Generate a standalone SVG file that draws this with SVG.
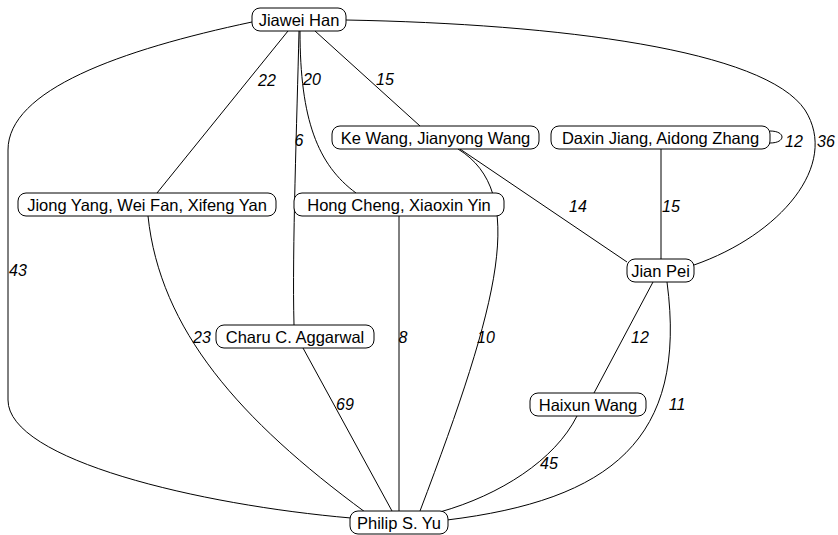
<svg xmlns="http://www.w3.org/2000/svg" width="838" height="535" viewBox="0 0 838 535">
<style>
.n rect{fill:#fff;stroke:#000;stroke-width:1}
.n text{font-family:"Liberation Sans",Arial,sans-serif;font-size:16.5px;text-anchor:middle;fill:#000}
.e path{fill:none;stroke:#000;stroke-width:1}
.l text{font-family:"Liberation Sans",Arial,sans-serif;font-size:16px;font-style:italic;text-anchor:middle;fill:#000}
</style>
<rect width="838" height="535" fill="#fff"/>
<g id="connectors" class="e">
<path d="M288,31 L157,193"/>
<path d="M299,31 C297,120 292,250 294,325"/>
<path d="M300,31 C300,120 318,165 356,193"/>
<path d="M315,31 L420,126"/>
<path d="M346,20 C560,24 765,50 805,110 C840,165 780,235 694,265"/>
<path d="M252,22 C120,50 8,90 8,150 L8,400 C8,460 200,505 351,518"/>
<path d="M460,149 L627,262"/>
<path d="M458,149 C528,192 500,300 420,511"/>
<path d="M661,149 L661,259"/>
<path d="M770,131 C786,131 786,143 770,143"/>
<path d="M148,216 C160,330 240,420 365,512"/>
<path d="M399,216 L399,511"/>
<path d="M303,348 L392,511"/>
<path d="M653,282 L594,393"/>
<path d="M667,282 C688,440 610,500 447,520"/>
<path d="M577,416 C555,460 500,495 440,512"/>
</g>
<g id="edge-labels" class="l">
<text x="267" y="86">22</text>
<text x="312" y="85">20</text>
<text x="385" y="85">15</text>
<text x="299" y="146">6</text>
<text x="826" y="147">36</text>
<text x="18" y="276">43</text>
<text x="794" y="147">12</text>
<text x="578" y="212">14</text>
<text x="671" y="212">15</text>
<text x="202" y="343">23</text>
<text x="403" y="343">8</text>
<text x="486" y="343">10</text>
<text x="640" y="343">12</text>
<text x="345" y="410">69</text>
<text x="677" y="410">11</text>
<text x="549" y="469">45</text>
</g>
<g id="jiawei-han" class="n"><rect x="252" y="8" width="94" height="23" rx="8"/><text x="299" y="25.5">Jiawei Han</text></g>
<g id="ke-wang" class="n"><rect x="332" y="126" width="207" height="23" rx="8"/><text x="435.5" y="143.5">Ke Wang, Jianyong Wang</text></g>
<g id="daxin-jiang" class="n"><rect x="551" y="126" width="219" height="23" rx="8"/><text x="660.5" y="143.5">Daxin Jiang, Aidong Zhang</text></g>
<g id="jiong-yang" class="n"><rect x="18" y="193" width="258" height="23" rx="8"/><text x="147" y="210.5">Jiong Yang, Wei Fan, Xifeng Yan</text></g>
<g id="hong-cheng" class="n"><rect x="294" y="193" width="210" height="23" rx="8"/><text x="399" y="210.5">Hong Cheng, Xiaoxin Yin</text></g>
<g id="jian-pei" class="n"><rect x="627" y="259" width="67" height="23" rx="8"/><text x="660.5" y="276.5">Jian Pei</text></g>
<g id="charu-aggarwal" class="n"><rect x="216" y="325" width="158" height="23" rx="8"/><text x="295" y="342.5">Charu C. Aggarwal</text></g>
<g id="haixun-wang" class="n"><rect x="530" y="393" width="116" height="23" rx="8"/><text x="588" y="410.5">Haixun Wang</text></g>
<g id="philip-yu" class="n"><rect x="350" y="511" width="98" height="23" rx="8"/><text x="399" y="528.5">Philip S. Yu</text></g>
</svg>
